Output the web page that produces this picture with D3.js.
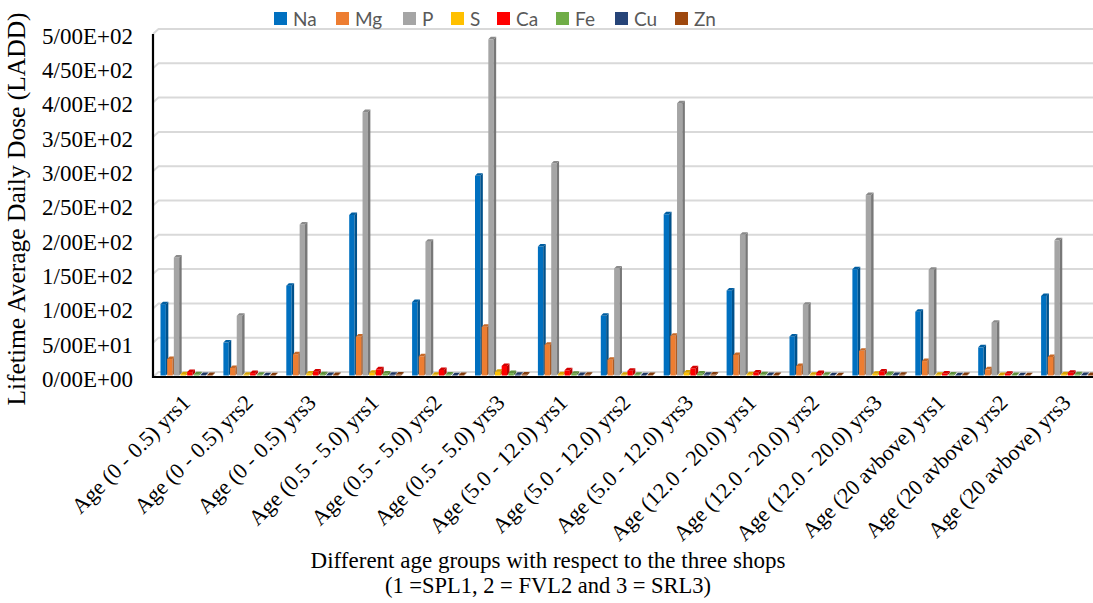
<!DOCTYPE html>
<html>
<head>
<meta charset="utf-8">
<script src="https://cdn.jsdelivr.net/npm/d3@7"></script>
<style>
  html, body { margin: 0; padding: 0; background: #fff; }
  svg { display: block; }
</style>
</head>
<body>
<svg id="chart" width="1093" height="603"></svg>
<script>
// Age groups by shop (1 = SPL1, 2 = FVL2, 3 = SRL3)
const categories = [
  "Age (0 - 0.5) yrs1", "Age (0 - 0.5) yrs2", "Age (0 - 0.5) yrs3",
  "Age (0.5 - 5.0) yrs1", "Age (0.5 - 5.0) yrs2", "Age (0.5 - 5.0) yrs3",
  "Age (5.0 - 12.0) yrs1", "Age (5.0 - 12.0) yrs2", "Age (5.0 - 12.0) yrs3",
  "Age (12.0 - 20.0) yrs1", "Age (12.0 - 20.0) yrs2", "Age (12.0 - 20.0) yrs3",
  "Age (20 avbove) yrs1", "Age (20 avbove) yrs2", "Age (20 avbove) yrs3"
];

const seriesNames = ["Na", "Mg", "P", "S", "Ca", "Fe", "Cu", "Zn"];
const seriesColors = ["#0070C0", "#ED7D31", "#A5A5A5", "#FFC000", "#FF0000", "#70AD47", "#264478", "#9E480E"];

// Lifetime average daily dose per element
const Na = [104, 48, 131, 234, 107, 291, 188, 87, 235, 124, 57, 155, 93, 41, 116];
const Mg = [24, 11, 31, 57, 28, 71, 45, 23, 58, 30, 14, 36, 21, 9, 27];
const P  = [172, 87, 220, 384, 195, 490, 309, 156, 397, 205, 103, 263, 154, 77, 197];
const S  = [2, 1, 3, 4, 1, 5.5, 2, 1, 4.5, 2, 1, 2.5, 1, 0.8, 2];
const Ca = [5, 3.5, 6, 9, 8, 14, 7.5, 7, 10.5, 4.5, 3.5, 6, 3, 2.5, 4];
const Fe = [1.8, 1, 2, 3, 1.5, 3.5, 2.5, 1.2, 3, 1.8, 1, 2.2, 1.5, 0.8, 1.8];
const Cu = [0.6, 0.4, 0.7, 1, 0.5, 1.2, 0.8, 0.5, 1, 0.6, 0.4, 0.8, 0.5, 0.3, 0.6];
const Zn = [0.8, 0.5, 0.9, 1.3, 0.7, 1.5, 1, 0.6, 1.3, 0.8, 0.5, 1, 0.6, 0.4, 0.8];

const seriesValues = [Na, Mg, P, S, Ca, Fe, Cu, Zn];
const yTicks = [0, 50, 100, 150, 200, 250, 300, 350, 400, 450, 500];

const svg = d3.select("#chart");
const serif = "'Liberation Serif', 'DejaVu Serif', serif";
const sans = "Lato, 'Open Sans', sans-serif";

const plotLeft = 153, plotBottom = 377, plotTop = 34;
const groupW = 62.9;
const wallDx = 5.5, wallDy = -5;   // depth of the back wall
const barOff = 1.5, barDepth = 2.5; // bar placement inside the floor depth

const y = d3.scaleLinear().domain([0, 500]).range([plotBottom, plotTop]);
const xGroup = d3.scaleBand().domain(categories)
  .range([plotLeft, plotLeft + groupW * categories.length]).padding(0);
const xSeries = d3.scaleBand().domain(seriesNames).range([6, 58]).paddingInner(0.2);

// Tick formatter: mantissa with "/" as decimal mark, two-digit exponent
function fmt(v) {
  if (v === 0) return "0/00E+00";
  const e = Math.floor(Math.log10(v));
  const m = (v / Math.pow(10, e)).toFixed(2).replace(".", "/");
  return m + "E+" + String(e).padStart(2, "0");
}

// Back-wall gridlines with the short side-wall segment
const grid = svg.append("g");
yTicks.forEach(t => {
  const yf = y(t), yb = y(t) + wallDy;
  grid.append("path")
    .attr("d", `M${plotLeft},${yf}L${plotLeft + wallDx},${yb}L1100,${yb}`)
    .attr("fill", "none")
    .attr("stroke", "#d9d9d9")
    .attr("stroke-width", 2);
});

// 3D-style columns
const bars = svg.append("g");
categories.forEach((cat, gi) => {
  seriesNames.forEach((name, si) => {
    const v = seriesValues[si][gi];
    const c = d3.color(seriesColors[si]);
    const x0 = xGroup(cat) + xSeries(name) + barOff;
    const w = xSeries.bandwidth();
    const yt = y(v) - barOff, yb = y(0) - barOff;
    const d = barDepth;
    const g = bars.append("g");
    g.append("rect").attr("x", x0).attr("y", yt).attr("width", w).attr("height", yb - yt)
      .attr("fill", c.formatHex());
    g.append("path")
      .attr("d", `M${x0 + w},${yt}L${x0 + w + d},${yt - d}L${x0 + w + d},${yb - d}L${x0 + w},${yb}Z`)
      .attr("fill", c.darker(0.9).formatHex());
    g.append("path")
      .attr("d", `M${x0},${yt}L${x0 + d},${yt - d}L${x0 + w + d},${yt - d}L${x0 + w},${yt}Z`)
      .attr("fill", c.darker(0.5).formatHex());
  });
});

// Axis lines
svg.append("line").attr("x1", plotLeft).attr("x2", plotLeft).attr("y1", plotTop).attr("y2", plotBottom + 1)
  .attr("stroke", "#000").attr("stroke-width", 2.2);
svg.append("line").attr("x1", plotLeft - 1).attr("x2", 1093).attr("y1", plotBottom).attr("y2", plotBottom)
  .attr("stroke", "#000").attr("stroke-width", 2.2);

// Y tick labels
const yAxis = d3.axisLeft(y).tickValues(yTicks).tickFormat(fmt).tickSize(0).tickPadding(0);
const ya = svg.append("g").attr("transform", "translate(133,2)").call(yAxis);
ya.select(".domain").remove();
ya.selectAll("text")
  .attr("font-family", serif).attr("font-size", 23).attr("fill", "#000");

// X category labels, rotated
svg.append("g").selectAll("text").data(categories).join("text")
  .attr("transform", d => `translate(${xGroup(d) + groupW / 2 + 7},${plotBottom + 27}) rotate(-45)`)
  .attr("text-anchor", "end")
  .attr("font-family", serif).attr("font-size", 22).attr("fill", "#000")
  .text(d => d);

// Axis titles
svg.append("text")
  .attr("transform", "translate(25,209) rotate(-90)")
  .attr("text-anchor", "middle")
  .attr("font-family", serif).attr("font-size", 25.5).attr("fill", "#000")
  .text("Lifetime Average Daily Dose (LADD)");

svg.append("text")
  .attr("x", 548).attr("y", 568).attr("text-anchor", "middle")
  .attr("font-family", serif).attr("font-size", 23).attr("fill", "#000")
  .text("Different age groups with respect to the three shops");
svg.append("text")
  .attr("x", 548).attr("y", 593).attr("text-anchor", "middle")
  .attr("font-family", serif).attr("font-size", 22.5).attr("fill", "#000")
  .text("(1 =SPL1, 2 = FVL2 and 3 = SRL3)");

// Legend
const legendX = [274, 336, 403, 451, 497, 556, 615, 675];
const lg = svg.append("g");
seriesNames.forEach((name, i) => {
  lg.append("rect").attr("x", legendX[i]).attr("y", 12).attr("width", 13).attr("height", 13)
    .attr("fill", seriesColors[i]);
  lg.append("text").attr("x", legendX[i] + 19).attr("y", 26)
    .attr("font-family", sans).attr("font-size", 19).attr("fill", "#595959")
    .text(name);
});
</script>
</body>
</html>
